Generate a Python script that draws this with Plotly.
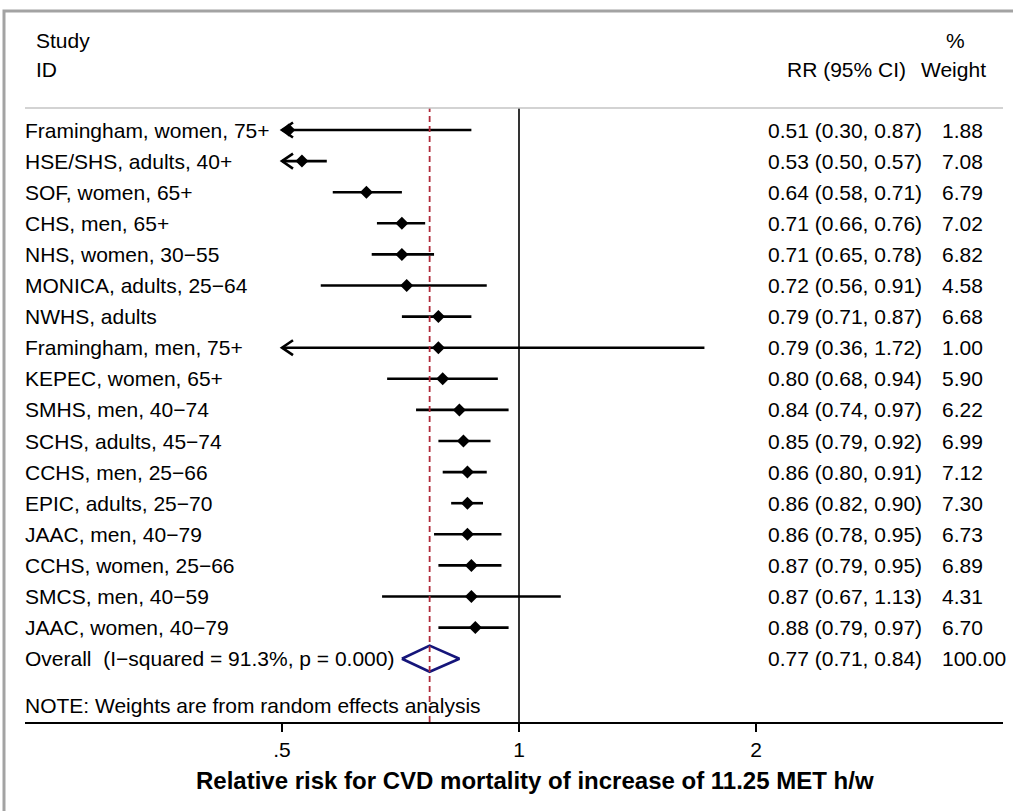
import math
import plotly.graph_objects as go

studies = [
    "Framingham, women, 75+", "HSE/SHS, adults, 40+", "SOF, women, 65+", "CHS, men, 65+",
    "NHS, women, 30\u221255", "MONICA, adults, 25\u221264", "NWHS, adults", "Framingham, men, 75+",
    "KEPEC, women, 65+", "SMHS, men, 40\u221274", "SCHS, adults, 45\u221274", "CCHS, men, 25\u221266",
    "EPIC, adults, 25\u221270", "JAAC, men, 40\u221279", "CCHS, women, 25\u221266", "SMCS, men, 40\u221259",
    "JAAC, women, 40\u221279",
]
rr = [0.51, 0.53, 0.64, 0.71, 0.71, 0.72, 0.79, 0.79, 0.80, 0.84, 0.85, 0.86, 0.86, 0.86, 0.87, 0.87, 0.88]
lower = [0.30, 0.50, 0.58, 0.66, 0.65, 0.56, 0.71, 0.36, 0.68, 0.74, 0.79, 0.80, 0.82, 0.78, 0.79, 0.67, 0.79]
upper = [0.87, 0.57, 0.71, 0.76, 0.78, 0.91, 0.87, 1.72, 0.94, 0.97, 0.92, 0.91, 0.90, 0.95, 0.95, 1.13, 0.97]
weights = [1.88, 7.08, 6.79, 7.02, 6.82, 4.58, 6.68, 1.00, 5.90, 6.22, 6.99, 7.12, 7.30, 6.73, 6.89, 4.31, 6.70]
overall_label = "Overall  (I\u2212squared = 91.3%, p = 0.000)"
overall = [0.77, 0.71, 0.84]
overall_weight = 100.00
note = "NOTE: Weights are from random effects analysis"
tick_vals = [0.5, 1, 2]
tick_text = [".5", "1", "2"]
x_title = "Relative risk for CVD mortality of increase of 11.25 MET h/w"

FONT = "Liberation Sans, Arial, Helvetica, sans-serif"
FS = 21
W, H = 1013, 811
L, R, T, B = 25, 10, 108, 89
PW = W - L - R
PH = H - T - B
X_MIN, X_MAX = 0.5, 2.0

# log axis: 1 at px 519, 237 px per doubling
def px_to_log10(px):
    return (px - 519) / 237.0 * math.log10(2)

xr = [px_to_log10(L), px_to_log10(W - R)]
ROW = 31.1
yr = [(H - B - 130) / ROW, (T - 130) / ROW]

def xp(px):
    return (px - L) / PW

def yp(py):
    return (H - B - py) / PH

fig = go.Figure()
n = len(studies)
ys = list(range(n))
line_col = "black"
dpx = 2 ** (11 / 237.0)

for i in range(n):
    lo = max(lower[i], X_MIN)
    hi = min(upper[i], X_MAX)
    fig.add_trace(go.Scatter(x=[lo, hi], y=[i, i], mode="lines",
                             line=dict(color=line_col, width=2.6), hoverinfo="skip", showlegend=False))
    if lower[i] <= X_MIN:
        fig.add_trace(go.Scatter(x=[X_MIN * dpx, X_MIN, X_MIN * dpx], y=[i - 0.24, i, i + 0.24],
                                 mode="lines", line=dict(color=line_col, width=2.6),
                                 hoverinfo="skip", showlegend=False))

fig.add_trace(go.Scatter(x=rr, y=ys, mode="markers",
                         marker=dict(symbol="diamond", size=10, color="black"),
                         showlegend=False, hoverinfo="x"))

oy = n
est, olo, ohi = overall
fig.add_trace(go.Scatter(x=[olo, est, ohi, est, olo], y=[oy, oy - 0.42, oy, oy + 0.42, oy],
                         mode="lines", line=dict(color="#15157a", width=2.6),
                         showlegend=False, hoverinfo="skip"))

shapes = [
    dict(type="line", xref="x", yref="paper", x0=1, x1=1, y0=0, y1=1,
         line=dict(color="black", width=1.6)),
    dict(type="line", xref="x", yref="paper", x0=est, x1=est, y0=0, y1=1,
         line=dict(color="#b02a3a", width=1.8, dash="6px,4px")),
    dict(type="line", xref="paper", yref="paper", x0=0, x1=1, y0=1, y1=1,
         line=dict(color="#c4c4c4", width=1.6)),
    dict(type="rect", xref="paper", yref="paper", x0=xp(4), x1=1.2, y0=-0.5, y1=yp(11),
         line=dict(color="#a3a3a3", width=3)),
]

ann = []
def text(x, y, s, xanchor="left", yref="y", size=FS, bold=False):
    ann.append(dict(x=x, y=y, xref="paper", yref=yref, text=("<b>%s</b>" % s) if bold else s,
                    showarrow=False, xanchor=xanchor, yanchor="middle",
                    font=dict(family=FONT, size=size, color="black")))

for i in range(n):
    text(xp(23), i, studies[i] + " ")
    text(xp(766), i, "%.2f (%.2f, %.2f)" % (rr[i], lower[i], upper[i]))
    text(xp(940), i, "%.2f" % weights[i])
text(xp(23), oy, overall_label)
text(xp(766), oy, "%.2f (%.2f, %.2f)" % tuple(overall))
text(xp(940), oy, "%.2f" % overall_weight)
text(xp(23), 18.5, note)

text(xp(34), yp(41), "Study", yref="paper")
text(xp(34), yp(70), "ID", yref="paper")
text(xp(944), yp(41), "%", yref="paper")
text(xp(919), yp(70), "Weight", yref="paper")
text(xp(785), yp(70), "RR (95% CI)", yref="paper")
text(xp(535), yp(780), x_title, xanchor="center", yref="paper", size=24, bold=True)

fig.update_layout(
    width=W, height=H, margin=dict(l=L, r=R, t=T, b=B),
    paper_bgcolor="white", plot_bgcolor="white",
    shapes=shapes, annotations=ann,
    xaxis=dict(type="log", range=xr, tickvals=tick_vals, ticktext=tick_text,
               showgrid=False, zeroline=False, showline=True, linecolor="black", linewidth=1.6,
               ticks="outside", ticklen=8, tickwidth=1.6, tickcolor="black",
               tickfont=dict(family=FONT, size=FS, color="black")),
    yaxis=dict(range=yr, visible=False, showgrid=False, zeroline=False),
)
fig.write_html("out.html", config={"displayModeBar": False},
               post_script="document.body.style.margin='0px';document.body.style.padding='0px';"
                           "document.body.style.overflow='hidden';")
